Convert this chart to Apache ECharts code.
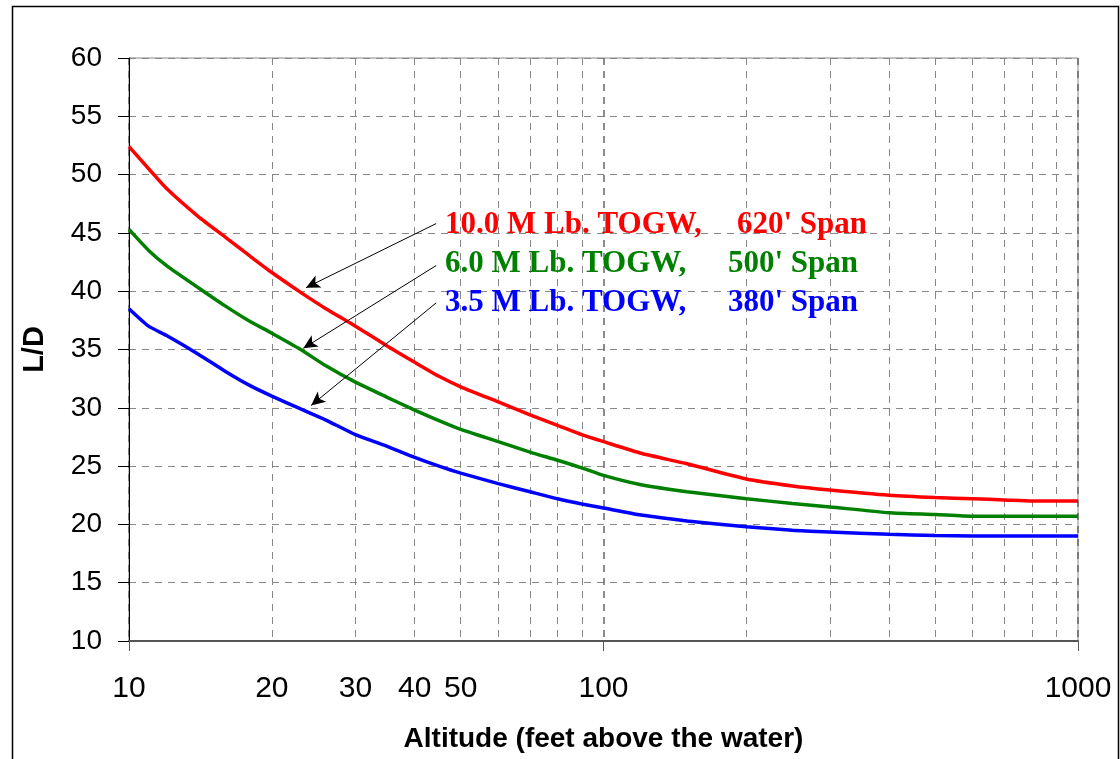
<!DOCTYPE html>
<html>
<head>
<meta charset="utf-8">
<script src="https://cdn.jsdelivr.net/npm/echarts@6/dist/echarts.min.js"></script>
<style>
  html, body { margin: 0; padding: 0; background: #fff; }
  #chart { width: 1120px; height: 759px; }
</style>
</head>
<body>
<div id="chart"></div>
<script>
// altitude in feet above the water
const altitude = [10, 11, 12, 14, 16, 18, 20, 23, 26, 30, 35, 40, 45, 50, 60, 70, 80, 90,
  100, 120, 150, 200, 250, 300, 400, 500, 600, 700, 800, 1000];

// L/D per aircraft size
const ld10M = [52.4, 50.5, 48.8, 46.4, 44.6, 43.0, 41.6, 39.9, 38.5, 37.0, 35.3, 33.9, 32.7, 31.8,
  30.5, 29.4, 28.5, 27.7, 27.1, 26.1, 25.2, 23.9, 23.3, 22.95, 22.5, 22.3, 22.2, 22.1, 22.0, 22.0];
const ld6M = [45.3, 43.5, 42.2, 40.3, 38.7, 37.4, 36.4, 35.0, 33.6, 32.2, 30.9, 29.8, 28.9, 28.15,
  27.1, 26.2, 25.5, 24.85, 24.2, 23.4, 22.8, 22.2, 21.8, 21.5, 21.0, 20.85, 20.7, 20.7, 20.7, 20.7];
const ld35M = [38.5, 37.0, 36.2, 34.6, 33.1, 31.9, 31.0, 29.9, 28.95, 27.7, 26.7, 25.75, 25.0, 24.4,
  23.5, 22.8, 22.2, 21.75, 21.4, 20.8, 20.3, 19.8, 19.5, 19.35, 19.15, 19.05, 19.0, 19.0, 19.0, 19.0];

const seriesNames = ["10.0 M Lb. TOGW", "6.0 M Lb. TOGW", "3.5 M Lb. TOGW"];
const seriesSpans = ["620' Span", "500' Span", "380' Span"];
const seriesColors = ["#ff0000", "#008000", "#0000ff"];

// arrow from label to curve: [fromX, fromY, toX, toY] in data units
const arrows = [
  [44.4, 45.8, 23.6, 40.3],
  [44.4, 42.2, 23.3, 35.1],
  [44.4, 39.0, 24.2, 30.2]
];

const xLabelValues = [10, 20, 30, 40, 50, 100, 1000];
const xMajorTicks = [10, 100, 1000];
const xMinorLines = [20, 30, 40, 50, 60, 70, 80, 90, 200, 300, 400, 500, 600, 700, 800, 900];

const chart = echarts.init(document.getElementById("chart"), null, { renderer: "canvas" });

function pairs(values) {
  return altitude.map((a, i) => [a, values[i]]);
}

const dash = [7, 6];
const labelFont = "bold 31px 'Liberation Serif', 'Times New Roman', serif";

const series = [ld10M, ld6M, ld35M].map((values, i) => ({
  name: seriesNames[i],
  type: "line",
  data: pairs(values),
  showSymbol: false,
  symbol: "none",
  smooth: 0.2,
  z: 3,
  lineStyle: { color: seriesColors[i], width: 3.5 },
  itemStyle: { color: seriesColors[i] },
  markLine: {
    silent: true,
    symbol: ["none", "arrow"],
    symbolSize: [10, 14],
    label: { show: false },
    lineStyle: { color: "#000", width: 1, type: "solid" },
    data: [[
      { coord: [arrows[i][0], arrows[i][1]] },
      { coord: [arrows[i][2], arrows[i][3]] }
    ]]
  }
}));

const labelTexts = [];
seriesNames.forEach((name, i) => {
  const y = 226 + i * 39;
  labelTexts.push({
    type: "text", left: 445, top: y - 17, z: 10,
    style: { text: name + ",", fill: seriesColors[i], font: labelFont }
  });
  labelTexts.push({
    type: "text", left: i === 0 ? 737 : 728, top: y - 17, z: 10,
    style: { text: seriesSpans[i], fill: seriesColors[i], font: labelFont }
  });
});

const option = {
  backgroundColor: "#fff",
  animation: false,
  grid: {
    left: 129, right: 42, top: 58, bottom: 118,
    outerBoundsMode: "none",
    containLabel: false,
    show: true, borderColor: "#888", borderWidth: 1, backgroundColor: "transparent"
  },
  xAxis: [
    {
      type: "log",
      logBase: 10,
      min: 10,
      max: 1000,
      name: "Altitude (feet above the water)",
      nameLocation: "middle",
      nameGap: 84,
      nameTextStyle: { fontFamily: "Liberation Sans", fontWeight: "bold", fontSize: 28, color: "#000" },
      axisLine: { show: true, onZero: false, lineStyle: { color: "#555", width: 2 } },
      axisTick: { show: true, length: 10, customValues: xMajorTicks, lineStyle: { color: "#555" } },
      axisLabel: {
        customValues: xLabelValues,
        margin: 33,
        fontFamily: "Liberation Sans",
        fontSize: 30,
        color: "#000",
        formatter: (v) => String(v)
      },
      splitLine: { show: true, lineStyle: { color: "#666", width: 1.5, type: dash } }
    },
    {
      type: "log",
      logBase: 10,
      min: 10,
      max: 1000,
      position: "bottom",
      axisLine: { show: false },
      axisTick: { show: false, customValues: xMinorLines },
      axisLabel: { show: false },
      splitLine: { show: true, lineStyle: { color: "#888", width: 1, type: dash } }
    }
  ],
  yAxis: {
    type: "value",
    min: 10,
    max: 60,
    interval: 5,
    name: "L/D",
    nameLocation: "middle",
    nameGap: 80,
    nameRotate: 90,
    nameTextStyle: { fontFamily: "Liberation Sans", fontWeight: "bold", fontSize: 29, color: "#000" },
    axisLine: { show: true, lineStyle: { color: "#000", width: 1 } },
    axisTick: { show: true, length: 11, lineStyle: { color: "#000" } },
    axisLabel: { margin: 27, fontFamily: "Liberation Sans", fontSize: 28, color: "#000" },
    splitLine: { show: true, lineStyle: { color: "#888", width: 1, type: dash } }
  },
  series: series,
  graphic: [
    {
      type: "rect", left: 10, top: 4, z: -1, silent: true,
      shape: { width: 1106, height: 800 },
      style: { fill: "none", stroke: "#000", lineWidth: 1.5 }
    }
  ].concat(labelTexts)
};

chart.setOption(option);
</script>
</body>
</html>
